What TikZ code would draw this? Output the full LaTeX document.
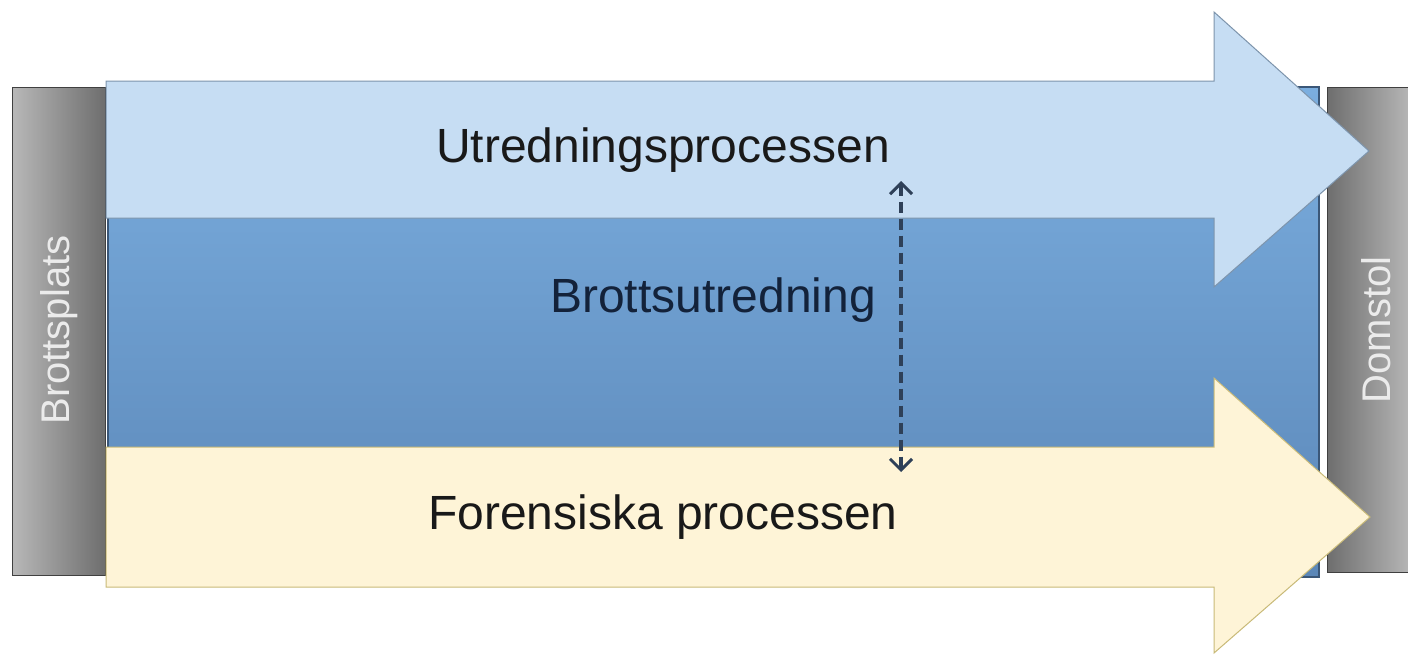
\documentclass[tikz,border=0pt]{standalone}
\usepackage{fontspec}
\setmainfont{Liberation Sans}
\usetikzlibrary{arrows.meta}
\definecolor{lblue}{HTML}{C6DDF3}
\definecolor{lblueline}{HTML}{7D94AC}
\definecolor{mbluetop}{HTML}{7BAEDF}
\definecolor{mbluebot}{HTML}{5B87B8}
\definecolor{mblueline}{HTML}{3B5778}
\definecolor{cream}{HTML}{FEF4D7}
\definecolor{creamline}{HTML}{C9BA78}
\definecolor{graylight}{HTML}{B8B8B8}
\definecolor{graydark}{HTML}{6E6E6E}
\definecolor{dashcol}{HTML}{2E4058}
\definecolor{midtext}{HTML}{13223A}
\tikzset{
  graybar/.style={draw=black!75, line width=1pt},
  bigarrow/.style={line width=1pt},
  lbl/.style={font=\fontsize{48}{56}\selectfont, text=black!90},
  sidelbl/.style={font=\fontsize{40}{46}\selectfont, text=white!92!black, rotate=90},
  dbl/.style={dashcol, line width=4pt, dash pattern=on 11pt off 6pt, {Straight Barb[length=11pt,width=22pt,line width=3pt]}-{Straight Barb[length=11pt,width=22pt,line width=3pt]}}
}
\begin{document}
\begin{tikzpicture}[x=1pt,y=-1pt]
\useasboundingbox (0,0) rectangle (1408,656);
\fill[white] (0,0) rectangle (1408,656);
% gray side bars
\shade[left color=graylight, right color=graydark] (12,87) rectangle (105,575);
\draw[graybar] (12,87) rectangle (105,575);
\shade[left color=graydark, right color=graylight] (1327,87) rectangle (1412,572);
\draw[graybar] (1327,87) -- (1412,87) (1327,87) -- (1327,572) -- (1412,572);
\node[sidelbl] (plats) at (59,330) {Brottsplats};
\node[sidelbl] (domstol) at (1376,330) {Domstol};
% middle blue rectangle
\shade[top color=mbluetop, bottom color=mbluebot] (108,87) rectangle (1319,577);
\draw[mblueline, line width=1.5pt] (108,87) rectangle (1319,577);
\node[lbl, text=midtext] (mid) at (713,300) {Brottsutredning};
% top arrow
\draw[bigarrow, draw=lblueline, fill=lblue] (106,81) -- (1214,81) -- (1214,12) -- (1369,151) -- (1214,287) -- (1214,218) -- (106,218) -- cycle;
\node[lbl] (top) at (663,150) {Utredningsprocessen};
% bottom arrow
\draw[bigarrow, draw=creamline, fill=cream] (106,447) -- (1214,447) -- (1214,378) -- (1370,517) -- (1214,653) -- (1214,587) -- (106,587) -- cycle;
\node[lbl] (bot) at (663,517) {Forensiska processen};
% dashed double arrow
\coordinate (da) at (901,181);
\coordinate (db) at (901,472);
\draw[dbl] (da) -- (db);
\end{tikzpicture}
\end{document}
